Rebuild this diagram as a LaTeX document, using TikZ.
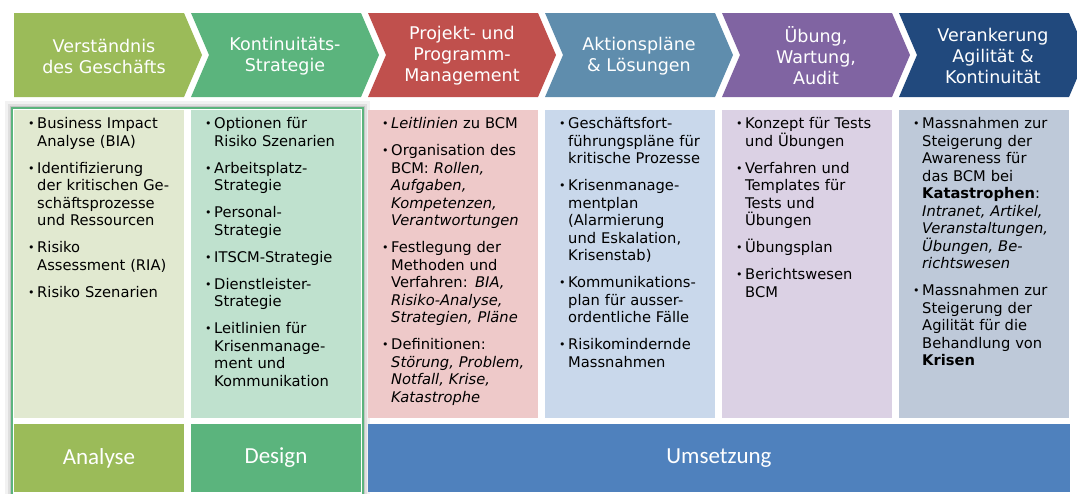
\documentclass[tikz,border=0pt]{standalone}
\usepackage{fontspec}
\setmainfont{DejaVu Sans}
\newfontfamily\calfont{Carlito}
\usetikzlibrary{positioning}

\definecolor{cAna}{RGB}{155,187,89}
\definecolor{cDes}{RGB}{91,180,125}
\definecolor{cPro}{RGB}{192,80,77}
\definecolor{cAkt}{RGB}{95,141,173}
\definecolor{cUeb}{RGB}{128,100,162}
\definecolor{cVer}{RGB}{33,73,125}
\definecolor{cUms}{RGB}{79,129,189}
\definecolor{lAna}{RGB}{225,233,208}
\definecolor{lDes}{RGB}{191,225,206}
\definecolor{lPro}{RGB}{238,201,201}
\definecolor{lAkt}{RGB}{201,216,235}
\definecolor{lUeb}{RGB}{219,209,228}
\definecolor{lVer}{RGB}{190,201,217}

\newenvironment{plist}{\begin{list}{\raisebox{1pt}{\fontsize{11}{11}\selectfont\textbullet}}{%
  \setlength\leftmargin{9pt}\setlength\labelwidth{9pt}\setlength\labelsep{0pt}%
  \setlength\itemsep{9.5pt}\setlength\parsep{0pt}\setlength\topsep{0pt}%
  \setlength\partopsep{0pt}\renewcommand\makelabel[1]{##1\hfil}}}{\end{list}}

\begin{document}
\begin{tikzpicture}[x=1pt, y=-1pt,
    head/.style = {text=white, align=center, font=\fontsize{17.5}{21}\selectfont},
    colbox/.style = {anchor=north west, inner sep=0pt, outer sep=0pt, minimum width=170pt, minimum height=308pt},
    txt/.style = {anchor=north west, inner sep=0pt, text width=160pt, align=left, font=\fontsize{14.7}{17.5}\selectfont},
    phase/.style = {anchor=north west, inner sep=0pt, outer sep=0pt, minimum width=170pt, minimum height=68pt, text=white, font=\calfont\fontsize{23}{23}\selectfont}]
  \useasboundingbox (0,0) rectangle (1077,493);
  \clip (0,0) rectangle (1077,493);

  % phase chevrons
  \foreach \c [count=\i from 0] in {cAna,cDes,cPro,cAkt,cUeb,cVer}{
    \pgfmathsetmacro\L{14+177*\i}
    \pgfmathsetmacro\n{\i==0 ? 0 : 18}
    \fill[\c] (\L,13) -- ++(170,0) -- ++(18,42) -- ++(-18,42) -- ++(-170,0) -- ++(\n,-42) -- cycle;
  }
  \node[head] (h1) at (104,56) {Verständnis\\des Geschäfts};
  \node[head] (h2) at (285,56) {Kontinuitäts-\\Strategie};
  \node[head] (h3) at (462,56) {Projekt- und\\Programm-\\Management};
  \node[head] (h4) at (639,56) {Aktionspläne\\\& Lösungen};
  \node[head] (h5) at (816,56) {Übung,\\Wartung,\\Audit};
  \node[head] (h6) at (993,56) {Verankerung\\Agilität \&\\Kontinuität};

  % highlight frame (shadow)
  \draw[line width=14pt, black, opacity=0.05] (12,108) rectangle (363,497);
  \draw[line width=8pt, black, opacity=0.08] (12,108) rectangle (363,497);
  \draw[line width=4pt, black, opacity=0.12] (12,108) rectangle (363,497);
  \fill[white] (12,108) rectangle (363,497);

  % columns
  \node[colbox, fill=lAna] (b1) at (14,110) {};
  \node[colbox, fill=lDes] (b2) [right=7pt of b1] {};
  \node[colbox, fill=lPro] (b3) [right=7pt of b2] {};
  \node[colbox, fill=lAkt] (b4) [right=7pt of b3] {};
  \node[colbox, fill=lUeb] (b5) [right=7pt of b4] {};
  \node[colbox, fill=lVer] (b6) [right=7pt of b5] {};

  \node[txt] (t1) at ([shift={(14,1)}]b1.north west) {\begin{plist}
    \item Business Impact\\Analyse (BIA)
    \item Identifizierung\\der kritischen Ge-\\schäftsprozesse\\und Ressourcen
    \item Risiko\\Assessment (RIA)
    \item Risiko Szenarien
  \end{plist}};
  \node[txt] (t2) at ([shift={(14,1)}]b2.north west) {\begin{plist}
    \item Optionen für\\Risiko Szenarien
    \item Arbeitsplatz-\\Strategie
    \item Personal-\\Strategie
    \item ITSCM-Strategie
    \item Dienstleister-\\Strategie
    \item Leitlinien für\\Krisenmanage-\\ment und\\Kommunikation
  \end{plist}};
  \node[txt] (t3) at ([shift={(14,1)}]b3.north west) {\begin{plist}
    \item \textit{Leitlinien} zu BCM
    \item Organisation des\\BCM: \textit{Rollen,}\\\textit{Aufgaben,}\\\textit{Kompetenzen,}\\\textit{Verantwortungen}
    \item Festlegung der\\Methoden und\\Verfahren: \textit{BIA,}\\\textit{Risiko-Analyse,}\\\textit{Strategien, Pläne}
    \item Definitionen:\\\textit{Störung, Problem,}\\\textit{Notfall, Krise,}\\\textit{Katastrophe}
  \end{plist}};
  \node[txt] (t4) at ([shift={(14,1)}]b4.north west) {\begin{plist}
    \item Geschäftsfort-\\führungspläne für\\kritische Prozesse
    \item Krisenmanage-\\mentplan\\(Alarmierung\\und Eskalation,\\Krisenstab)
    \item Kommunikations-\\plan für ausser-\\ordentliche Fälle
    \item Risikomindernde\\Massnahmen
  \end{plist}};
  \node[txt] (t5) at ([shift={(14,1)}]b5.north west) {\begin{plist}
    \item Konzept für Tests\\und Übungen
    \item Verfahren und\\Templates für\\Tests und\\Übungen
    \item Übungsplan
    \item Berichtswesen\\BCM
  \end{plist}};
  \node[txt] (t6) at ([shift={(14,1)}]b6.north west) {\begin{plist}
    \item Massnahmen zur\\Steigerung der\\Awareness für\\das BCM bei\\\textbf{Katastrophen}:\\\textit{Intranet, Artikel,}\\\textit{Veranstaltungen,}\\\textit{Übungen, Be-}\\\textit{richtswesen}
    \item Massnahmen zur\\Steigerung der\\Agilität für die\\Behandlung von\\\textbf{Krisen}
  \end{plist}};

  % phases
  \node[phase, fill=cAna] (ana) at (14,424) {Analyse};
  \node[phase, fill=cDes] (des) [right=7pt of ana] {Design};
  \node[phase, fill=cUms, minimum width=702pt] (ums) [right=7pt of des] {Umsetzung};

  \draw[cDes, line width=2.5pt] (12,108) rectangle (363,497);
\end{tikzpicture}
\end{document}
